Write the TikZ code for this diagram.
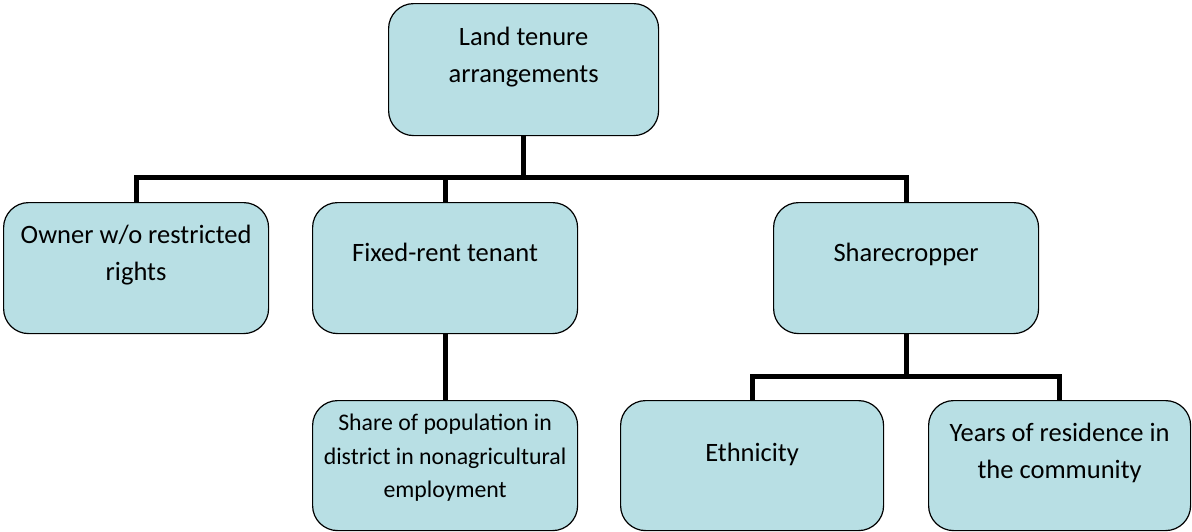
\documentclass[tikz,border=0pt]{standalone}
\usepackage{fontspec}
\setmainfont{Carlito}
\usepackage{tikz}
\usepackage{xcolor}
\definecolor{boxfill}{RGB}{184,223,228}
\newcommand{\bigtext}{\fontsize{26.5}{37}\selectfont}
\newcommand{\smalltext}{\fontsize{23.8}{33.5}\selectfont}
\newcommand{\boxtext}[5][\bigtext]{\parbox[c][#3pt][t]{#2pt}{#1\centering\vspace*{#4pt}\strut#5\par}}
\tikzset{
    tenure-box/.style = {draw=black, fill=boxfill, line width=1.2pt, rectangle, rounded corners=25pt, inner sep=0pt, anchor=north west},
    tenure-link/.style = {draw=black, line width=5pt, line join=miter},
}

\begin{document}
\begin{tikzpicture}[x=1pt, y=-1pt]
\useasboundingbox (0,0) rectangle (1192,531);
% top level
\node[tenure-box] (land) at (388,3) {\boxtext{270}{132}{16}{Land tenure\\arrangements}};
% second level
\node[tenure-box] (owner) at (3,202) {\boxtext{265}{131}{15}{Owner w/o restricted\\rights}};
\node[tenure-box] (fixed) at (312,202) {\boxtext{265}{131}{33}{Fixed-rent tenant}};
\node[tenure-box] (sharecrop) at (773,202) {\boxtext{265}{131}{33}{Sharecropper}};
% third level
\node[tenure-box] (nonagri) at (312,400) {\boxtext[\smalltext]{265}{130}{6.6}{Share of population in\\district in nonagricultural\\employment}};
\node[tenure-box] (ethnic) at (620,400) {\boxtext{263}{130}{35}{Ethnicity}};
\node[tenure-box] (residence) at (928,400) {\boxtext{262}{130}{15}{Years of residence in\\the community}};
% connectors
\coordinate (top-split) at (land.south |- 0,177);
\coordinate (low-split) at (sharecrop.south |- 0,376);
\draw[tenure-link] (land.south) -- (top-split);
\draw[tenure-link] (owner.north) |- (top-split) -| (sharecrop.north);
\draw[tenure-link] (fixed.north) -- (fixed.north |- top-split);
\draw[tenure-link] (fixed.south) -- (nonagri.north);
\draw[tenure-link] (sharecrop.south) -- (low-split);
\draw[tenure-link] (ethnic.north) |- (low-split) -| (residence.north);
\end{tikzpicture}
\end{document}
